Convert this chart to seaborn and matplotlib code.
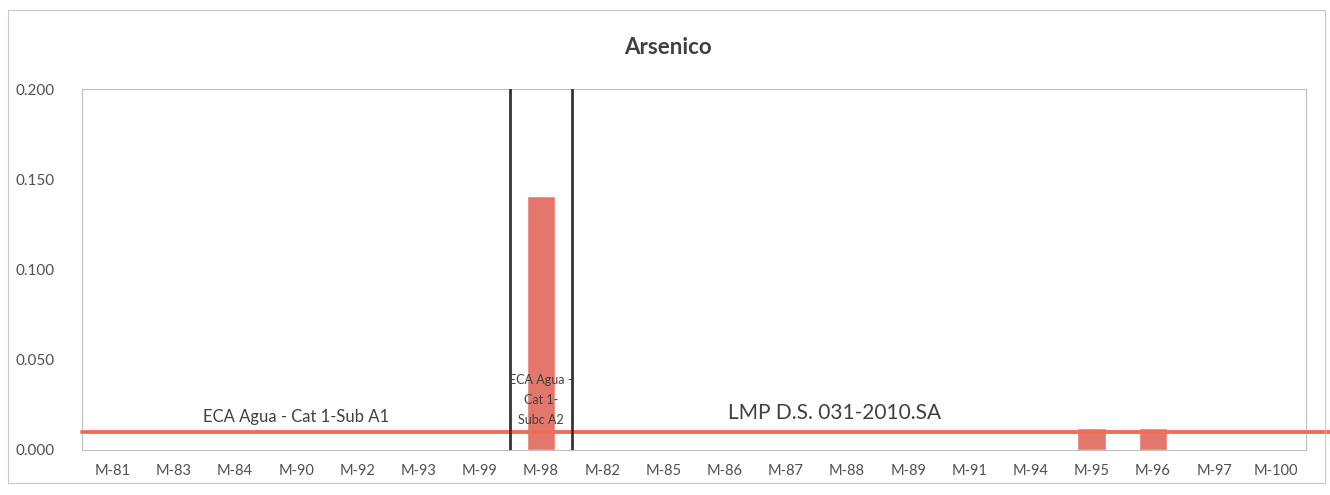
import pandas as pd
import matplotlib.pyplot as plt
import matplotlib.patches as mpatches
import seaborn as sns

# data
estaciones = ['M-81', 'M-83', 'M-84', 'M-90', 'M-92', 'M-93', 'M-99', 'M-98', 'M-82', 'M-85',
              'M-86', 'M-87', 'M-88', 'M-89', 'M-91', 'M-94', 'M-95', 'M-96', 'M-97', 'M-100']
arsenico = [0, 0, 0, 0, 0, 0, 0, 0.141, 0, 0,
            0, 0, 0, 0, 0, 0, 0.012, 0.012, 0, 0]
eca_sub_a1 = 0.010
lmp_ds031 = 0.010
estacion_a2 = 'M-98'
y_ticks = [0.000, 0.050, 0.100, 0.150, 0.200]

df = pd.DataFrame({'Estacion': estaciones, 'Arsenico': arsenico})

sns.set_style('white')
plt.rcParams['font.family'] = ['Lato', 'DejaVu Sans']

fig = plt.figure(figsize=(13.3, 4.95), dpi=100)
ax = fig.add_axes([0.0617, 0.091, 0.9203, 0.729])

sns.barplot(x='Estacion', y='Arsenico', data=df, color='#E4776B', width=0.47,
            saturation=1, ax=ax, zorder=2)

ax.set_ylim(0, 0.2)
ax.set_yticks(y_ticks)
ax.set_yticklabels([f'{v:.3f}' for v in y_ticks], color='#505050', fontsize=11)
ax.tick_params(axis='x', colors='#505050', labelsize=10.5, length=0, pad=10)
ax.tick_params(axis='y', length=0, pad=20)
ax.set_xlabel('')
ax.set_ylabel('')
for s in ax.spines.values():
    s.set_color('#BFBFBF')
    s.set_linewidth(0.8)

# limite ECA / LMP
ax.axhline(eca_sub_a1, xmin=0, xmax=1.02, color='#EC6F5A', lw=2.8, clip_on=False, zorder=3)

# franja de la estacion Sub A2
i = estaciones.index(estacion_a2)
ax.axvline(i - 0.5, color='#333333', lw=2, zorder=4)
ax.axvline(i + 0.5, color='#333333', lw=2, zorder=4)

ax.text(3, eca_sub_a1 + 0.004, 'ECA Agua - Cat 1-Sub A1', ha='center', va='bottom',
        fontsize=12, color='#404040')
ax.text(11.8, lmp_ds031 + 0.005, 'LMP D.S. 031-2010.SA', ha='center', va='bottom',
        fontsize=15, color='#404040')
ax.text(i, eca_sub_a1 + 0.003, 'ECA Agua -\nCat 1-\nSubc A2', ha='center', va='bottom',
        fontsize=9, color='#404040', linespacing=1.8, zorder=5)

fig.text(0.502, 0.905, 'Arsenico', ha='center', va='center', fontsize=16,
         fontweight='bold', color='#404040')

# marco exterior del grafico
fig.patches.append(mpatches.Rectangle((0.006, 0.025), 0.99, 0.955, transform=fig.transFigure,
                                      fill=False, edgecolor='#C8C8C8', lw=0.8))

plt.savefig('out.png', dpi=100)
